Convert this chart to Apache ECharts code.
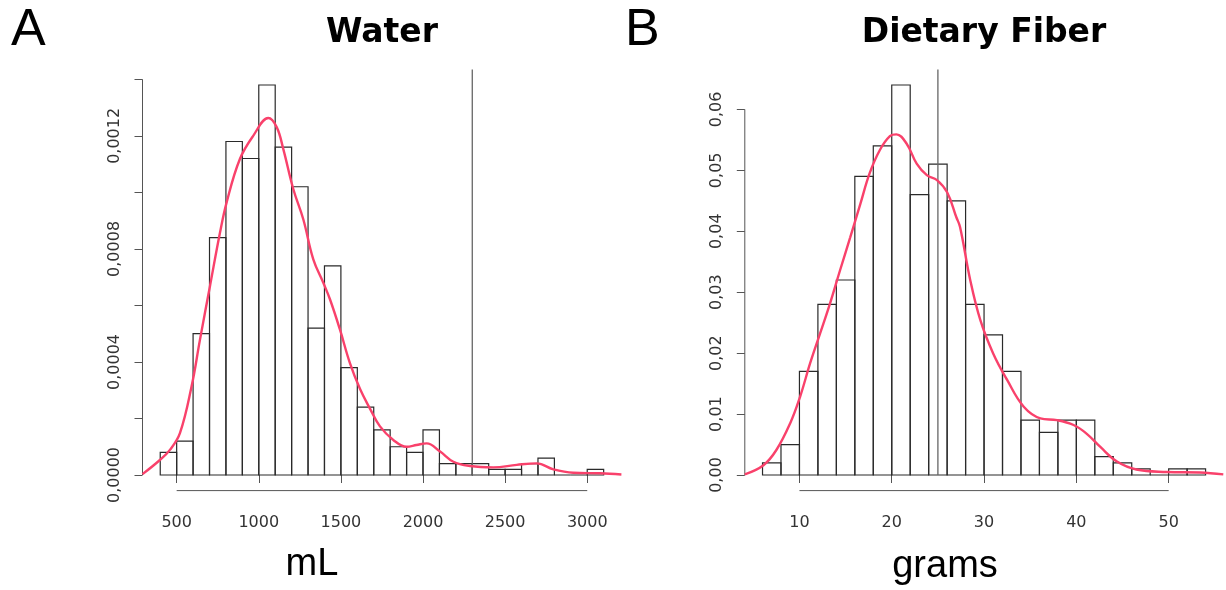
<!DOCTYPE html>
<html>
<head>
<meta charset="utf-8">
<script src="https://cdn.jsdelivr.net/npm/echarts@6/dist/echarts.min.js"></script>
<style>
html, body { margin: 0; background: #fff; }
#main { width: 1226px; height: 590px; }
</style>
</head>
<body>
<div id="main"></div>
<script>
// A : water intake (mL)
var waterBreaks  = [400, 500, 600, 700, 800, 900, 1000, 1100, 1200, 1300, 1400, 1500, 1600, 1700,
                    1800, 1900, 2000, 2100, 2200, 2300, 2400, 2500, 2600, 2700, 2800, 2900, 3000, 3100];
var waterDensity = [0.00008, 0.00012, 0.0005, 0.00084, 0.00118, 0.00112, 0.00138, 0.00116, 0.00102,
                    0.00052, 0.00074, 0.00038, 0.00024, 0.00016, 0.0001, 0.00008, 0.00016, 0.00004,
                    0.00004, 0.00004, 0.00002, 0.00002, 0.00004, 0.00006, 0, 0, 0.00002];
var waterCurveX  = [292, 398, 459, 520, 591, 642, 703, 764, 804, 885, 967, 1058, 1109, 1149, 1210,
                    1271, 1332, 1393, 1434, 1494, 1555, 1616, 1677, 1738, 1819, 1900, 1960, 2022,
                    2104, 2185, 2286, 2428, 2571, 2693, 2794, 2915, 3078, 3208];
var waterCurveY  = [0.000003, 0.000053, 0.000089, 0.000148, 0.000314, 0.000479, 0.000669, 0.000858,
                    0.000964, 0.001118, 0.001201, 0.001263, 0.001231, 0.001154, 0.001012, 0.000905,
                    0.000763, 0.00068, 0.000621, 0.000515, 0.000396, 0.000305, 0.000235, 0.000172,
                    0.000124, 0.0001, 0.000106, 0.000112, 0.000083, 0.000047, 0.000032, 0.000027,
                    0.000036, 0.000041, 0.00002, 0.000008, 0.000006, 0.000002];
var waterMark    = 2300;
var waterXTicks  = [500, 1000, 1500, 2000, 2500, 3000];
var waterYTicks  = [0, 0.0002, 0.0004, 0.0006, 0.0008, 0.001, 0.0012, 0.0014];
var waterYLabels = [0, 0.0004, 0.0008, 0.0012];

// B : dietary fiber (grams)
var fiberBreaks  = [6, 8, 10, 12, 14, 16, 18, 20, 22, 24, 26, 28, 30, 32, 34, 36, 38, 40, 42, 44,
                    46, 48, 50, 52, 54];
var fiberDensity = [0.002, 0.005, 0.017, 0.028, 0.032, 0.049, 0.054, 0.064, 0.046, 0.051, 0.045,
                    0.028, 0.023, 0.017, 0.009, 0.007, 0.009, 0.009, 0.003, 0.002, 0.001, 0,
                    0.001, 0.001];
var fiberCurveX  = [4.08, 6.1, 7.5, 9.0, 10.06, 11.15, 12.23, 13.3, 14.4, 15.5, 16.6, 17.6, 18.7,
                    19.8, 20.5, 21.6, 22.7, 23.8, 24.9, 26.0, 27.0, 27.4, 28.5, 29.6, 31.0, 32.5,
                    34.3, 36.1, 37.9, 39.7, 41.1, 42.6, 44.4, 46.5, 49.8, 53.4, 55.92];
var fiberCurveY  = [0.0001, 0.0016, 0.0041, 0.0085, 0.0128, 0.0183, 0.0232, 0.0281, 0.0336, 0.039,
                    0.0445, 0.0495, 0.0533, 0.0556, 0.0559, 0.0544, 0.0511, 0.0492, 0.0484, 0.0464,
                    0.0423, 0.0407, 0.032, 0.0254, 0.0199, 0.0156, 0.0112, 0.0093, 0.009, 0.0082,
                    0.0068, 0.0046, 0.0022, 0.0009, 0.0005, 0.0004, 0.0001];
var fiberMark    = 25;
var fiberXTicks  = [10, 20, 30, 40, 50];
var fiberYTicks  = [0, 0.01, 0.02, 0.03, 0.04, 0.05, 0.06];
var fiberYLabels = [0, 0.01, 0.02, 0.03, 0.04, 0.05, 0.06];

var AXIS_COLOR = '#555';
var CURVE_COLOR = '#f9416b';
var TICK_FONT = 'DejaVu Sans';

var myChart = echarts.init(document.getElementById('main'));

// R pads both ranges by 4%
function padded(lo, hi) {
	var d = (hi - lo) * 0.04;
	return [lo - d, hi + d];
}

function histItem(params, api) {
	var p0 = api.coord([api.value(0), 0]);
	var p1 = api.coord([api.value(1), api.value(2)]);
	return {
		type: 'rect',
		shape: { x: p0[0], y: p1[1], width: p1[0] - p0[0], height: p0[1] - p1[1] },
		style: { fill: 'none', stroke: '#2a2a2a', lineWidth: 1.2 }
	};
}

function buildPanel(idx, breaks, dens, cx, cy, mark, xTicks, yTicks, yLabels, digits) {
	var xr = padded(breaks[0], breaks[breaks.length - 1]);
	var yr = padded(0, Math.max.apply(null, dens));
	var bins = [];
	for (var i = 0; i < dens.length; i++) {
		bins.push([breaks[i], breaks[i + 1], dens[i]]);
	}
	var curve = [];
	for (var j = 0; j < cx.length; j++) {
		curve.push([cx[j], cy[j]]);
	}
	var lastX = xTicks[xTicks.length - 1], lastY = yTicks[yTicks.length - 1];

	var xAxis = {
		gridIndex: idx, type: 'value', min: xr[0], max: xr[1],
		axisLine: { show: false }, splitLine: { show: false },
		axisTick: { show: true, customValues: xTicks, length: 8, lineStyle: { color: AXIS_COLOR } },
		axisLabel: {
			customValues: xTicks, margin: 24, fontFamily: TICK_FONT, fontSize: 16, color: '#333',
			formatter: function (v) { return String(v); }
		}
	};
	var yAxis = {
		gridIndex: idx, type: 'value', min: yr[0], max: yr[1],
		axisLine: { show: false }, splitLine: { show: false },
		axisTick: { show: true, customValues: yTicks, length: 8, lineStyle: { color: AXIS_COLOR } },
		axisLabel: {
			customValues: yLabels, rotate: 90, margin: 20, fontFamily: TICK_FONT, fontSize: 16, color: '#333',
			formatter: function (v) { return v.toFixed(digits).replace('.', ','); }
		}
	};
	var lineBase = { xAxisIndex: idx, yAxisIndex: idx, type: 'line', symbol: 'none', silent: true, clip: false };
	var series = [
		{ type: 'custom', xAxisIndex: idx, yAxisIndex: idx, renderItem: histItem, data: bins, silent: true },
		echarts.util.extend({ data: [[xTicks[0], yr[0]], [lastX, yr[0]]], lineStyle: { color: AXIS_COLOR, width: 1 } }, lineBase),
		echarts.util.extend({ data: [[xr[0], 0], [xr[0], lastY]], lineStyle: { color: AXIS_COLOR, width: 1 } }, lineBase),
		echarts.util.extend({ data: [[mark, 0], [mark, yr[1]]], lineStyle: { color: '#666', width: 1.3 } }, lineBase),
		echarts.util.extend({ data: curve, smooth: 0.4, lineStyle: { color: CURVE_COLOR, width: 2.4 }, z: 5 }, lineBase)
	];
	return { xAxis: xAxis, yAxis: yAxis, series: series };
}

var panelA = buildPanel(0, waterBreaks, waterDensity, waterCurveX, waterCurveY, waterMark,
                        waterXTicks, waterYTicks, waterYLabels, 4);
var panelB = buildPanel(1, fiberBreaks, fiberDensity, fiberCurveX, fiberCurveY, fiberMark,
                        fiberXTicks, fiberYTicks, fiberYLabels, 2);

function label(text, x, y, font, size, weight, align) {
	return {
		type: 'text', x: x, y: y, silent: true,
		style: { text: text, fontFamily: font, fontSize: size, fontWeight: weight,
		         fill: '#000', align: align, verticalAlign: 'middle' }
	};
}

var chartOption = {
	backgroundColor: '#fff',
	animation: false,
	grid: [
		{ left: 142.5, right: 604.6, top: 69.4, bottom: 99.4 },
		{ left: 744.8, right: 2.7, top: 69.4, bottom: 99.4 }
	],
	xAxis: [panelA.xAxis, panelB.xAxis],
	yAxis: [panelA.yAxis, panelB.yAxis],
	series: panelA.series.concat(panelB.series),
	graphic: [
		label('A', 11, 30.5, 'Liberation Sans', 52, 'normal', 'left'),
		label('B', 625, 30.5, 'Liberation Sans', 52, 'normal', 'left'),
		label('Water', 382, 33, 'DejaVu Sans', 33, 'bold', 'center'),
		label('Dietary Fiber', 984, 33, 'DejaVu Sans', 33, 'bold', 'center'),
		label('mL', 312, 565, 'Liberation Sans', 38, 'normal', 'center'),
		label('grams', 945, 567, 'Liberation Sans', 38, 'normal', 'center')
	]
};

myChart.setOption(chartOption);
</script>
</body>
</html>
